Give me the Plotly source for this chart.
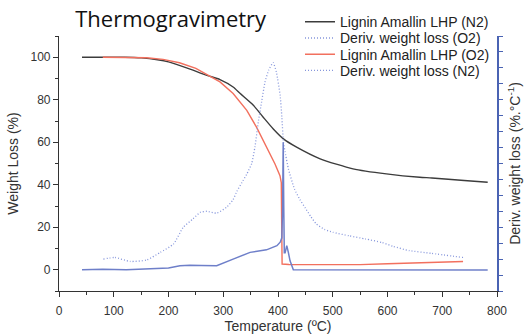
import plotly.graph_objects as go

# --- Data ---
# TG curve, Lignin Amallin LHP under N2 (weight %, left axis)
tg_n2_x = [42, 80, 120, 150, 180, 200, 233, 270, 294, 318, 331, 355, 373, 391, 410, 434, 477, 537, 598, 659, 681, 740, 783]
tg_n2_y = [100, 100, 100, 99.7, 98.8, 97.8, 95, 91.5, 89.5, 86, 82.9, 77.4, 71.8, 66.4, 61.6, 57.7, 52.2, 47.5, 45.1, 43.5, 43.2, 42, 41.2]

# TG curve, Lignin Amallin LHP under O2 (weight %, left axis)
tg_o2_x = [80, 100, 130, 160, 190, 220, 250, 270, 294, 318, 343, 361, 379, 394.5, 403.6, 406, 406.8, 407.5, 420, 460, 500, 550, 600, 650, 700, 738]
tg_o2_y = [100, 100, 100, 99.8, 99, 97.4, 94.8, 91.8, 88.4, 82.9, 75, 67, 57.7, 49.8, 44.3, 41, 20, 2.7, 2.5, 2.4, 2.4, 2.4, 2.8, 3.2, 3.6, 3.9]

# Derivative weight loss (O2), %/°C, right axis
dtg_o2_x = [81, 102, 130, 160, 185, 209, 227, 245, 258, 270, 288, 306, 318, 325, 334, 343, 352, 358, 364, 370, 376, 383, 391, 397, 404, 407, 410, 414, 419, 430, 440, 450, 460, 470, 485, 500, 530, 560, 590, 610, 640, 680, 738]
dtg_o2_y = [0.067, 0.077, 0.052, 0.061, 0.109, 0.161, 0.267, 0.32, 0.36, 0.367, 0.355, 0.392, 0.44, 0.493, 0.547, 0.6, 0.667, 0.773, 0.927, 1.053, 1.173, 1.253, 1.30, 1.24, 1.093, 0.96, 0.80, 0.72, 0.633, 0.507, 0.44, 0.387, 0.333, 0.287, 0.253, 0.235, 0.213, 0.193, 0.171, 0.147, 0.12, 0.103, 0.077]

# Derivative weight loss (N2), %/°C, right axis
dtg_n2_x = [42, 80, 123, 166, 200, 221, 239, 260, 288, 318, 349, 379, 398, 404, 407, 408.5, 409.5, 410.5, 411.5, 413, 416, 419, 422, 428, 500, 600, 783]
dtg_n2_y = [0, 0.003, 0, 0.004, 0.011, 0.025, 0.029, 0.027, 0.025, 0.067, 0.109, 0.125, 0.151, 0.173, 0.2, 0.4, 0.80, 0.4, 0.107, 0.107, 0.151, 0.107, 0.056, 0, -0.001, -0.001, -0.001]

x_ticks = [0, 100, 200, 300, 400, 500, 600, 700, 800]
y_ticks = [0, 20, 40, 60, 80, 100]

BLACK = "#3c3c3c"
RED = "#f2705e"
BLUE_SOLID = "#6e7fc9"
BLUE_DOT = "#8797dc"
AXIS_BLUE = "#4a63b3"
FONT = "Liberation Sans, Arial, sans-serif"
DOT = "1px,2px"

fig = go.Figure()
fig.add_trace(go.Scatter(x=tg_n2_x, y=tg_n2_y, mode="lines", name="Lignin Amallin LHP (N2)", legend="legend",
                         line=dict(color=BLACK, width=1.4, shape="spline", smoothing=0.6)))
fig.add_trace(go.Scatter(x=dtg_o2_x, y=dtg_o2_y, mode="lines", name="Deriv. weight loss (O2)", yaxis="y2",
                         legend="legend2",
                         line=dict(color=BLUE_DOT, width=1.3, dash=DOT, shape="spline", smoothing=0.5)))
fig.add_trace(go.Scatter(x=tg_o2_x, y=tg_o2_y, mode="lines", name="Lignin Amallin LHP (O2)", legend="legend3",
                         line=dict(color=RED, width=1.4)))
fig.add_trace(go.Scatter(x=dtg_n2_x, y=dtg_n2_y, mode="lines", name="Deriv. weight loss (N2)", yaxis="y2",
                         showlegend=False, line=dict(color=BLUE_SOLID, width=1.5)))
fig.add_trace(go.Scatter(x=[None], y=[None], mode="lines", name="Deriv. weight loss (N2)", yaxis="y2",
                         legend="legend4", line=dict(color=BLUE_DOT, width=1.3, dash=DOT)))

legend_x = (300 - 59) / 438


def leg(i):
    cy = 22.2 + 16.2 * i
    return dict(x=legend_x, y=(291 - cy) / 255, xanchor="left", yanchor="middle",
                bgcolor="rgba(0,0,0,0)", font=dict(family=FONT, size=14, color="#222222"),
                itemwidth=30)


fig.update_layout(
    width=530, height=336,
    margin=dict(l=59, r=33, t=36, b=45, autoexpand=False),
    paper_bgcolor="white", plot_bgcolor="white",
    font=dict(family=FONT, size=12, color="#333333"),
    title=dict(text="Thermogravimetry", xref="container", yref="container", x=0.142, xanchor="left",
               y=0.943, yanchor="middle", font=dict(family="Open Sans, sans-serif", size=22, color="#111111")),
    showlegend=True,
    legend=leg(0), legend2=leg(1), legend3=leg(2), legend4=leg(3),
    xaxis=dict(range=[0, 800], tickvals=x_ticks, ticks="outside", ticklen=5, tickcolor="#333333",
               showline=True, linecolor="#333333", linewidth=1.2, showgrid=False, zeroline=False,
               minor=dict(dtick=50, ticks="outside", ticklen=3, tickcolor="#333333"),
               ticklabelstandoff=3, automargin=False,
               title=dict(text="Temperature (ºC)", font=dict(size=14), standoff=4),
               tickfont=dict(size=12)),
    yaxis=dict(range=[-10, 110], tickvals=y_ticks, ticks="outside", ticklen=5, tickcolor="#333333",
               showline=True, linecolor="#333333", linewidth=1.2, showgrid=False, zeroline=False,
               minor=dict(tickvals=[-10, 10, 30, 50, 70, 90, 110], ticks="outside", ticklen=3, tickcolor="#333333"),
               automargin=False,
               title=dict(text="Weight Loss (%)", font=dict(size=14), standoff=8),
               tickfont=dict(size=12)),
    yaxis2=dict(overlaying="y", side="right", range=[-0.1333, 1.4667], tick0=-0.1333, dtick=0.1,
                showticklabels=False, ticks="outside", ticklen=4, tickcolor=AXIS_BLUE, automargin=False,
                showline=True, linecolor=AXIS_BLUE, linewidth=1.5, showgrid=False, zeroline=False,
                title=dict(text="Deriv. weight loss (%.°C<sup>-1</sup>)", font=dict(size=14), standoff=8)),
)

fig.write_html("out.html")
